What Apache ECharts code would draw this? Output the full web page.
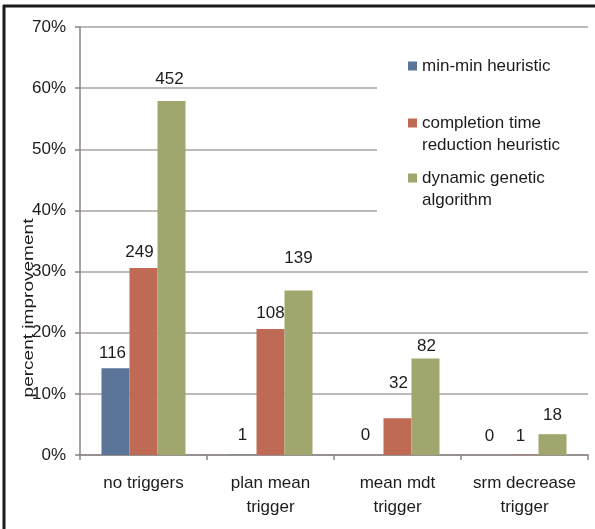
<!DOCTYPE html>
<html>
<head>
<meta charset="utf-8">
<script src="https://cdn.jsdelivr.net/npm/echarts@6/dist/echarts.min.js"></script>
<style>
  html, body { margin: 0; padding: 0; background: #fff; }
  #chart { width: 595px; height: 529px; }
</style>
</head>
<body>
<div id="chart"></div>
<script>
// Trigger scenarios on the category axis
const categories = ['no triggers', 'plan mean\ntrigger', 'mean mdt\ntrigger', 'srm decrease\ntrigger'];

// Scheduling approaches
const seriesNames = ['min-min heuristic', 'completion time reduction heuristic', 'dynamic genetic algorithm'];
const legendLabels = ['min-min heuristic', 'completion time\nreduction heuristic', 'dynamic genetic\nalgorithm'];

// Percent improvement per approach
const minMinPct = [14.2, 0.05, 0, 0];
const completionTimePct = [30.6, 20.6, 6.0, 0.05];
const geneticPct = [57.9, 26.9, 15.8, 3.4];

// Counts printed above each bar
const minMinCount = [116, 1, 0, 0];
const completionTimeCount = [249, 108, 32, 1];
const geneticCount = [452, 139, 82, 18];

// Y axis range (percent)
const yMin = 0, yMax = 70, yStep = 10;

const FONT = '"Liberation Sans", Arial, sans-serif';
const TEXT = '#1c1c1c';
const GRID = '#a8a2a2';
const AXIS = '#8a8484';
const colors = ['#5b7598', '#bf6a54', '#a1a66f'];

// hand-placed label nudges [dx, dy] per series and category
const labelNudge = [
  [[-3, -1], [0, -6], [-4, -6], [-7, -5]],
  [[-4, -2], [0, -2], [1, -22], [-4, -5]],
  [[-2, -8], [0, -19], [1, 1], [0, -5]]
];

const pctSeries = [minMinPct, completionTimePct, geneticPct];
const countSeries = [minMinCount, completionTimeCount, geneticCount];

const chart = echarts.init(document.getElementById('chart'), null, { renderer: 'canvas' });

const series = seriesNames.map((name, s) => ({
  name: name,
  type: 'bar',
  barWidth: 28,
  barGap: '0%',
  itemStyle: { color: colors[s] },
  label: {
    show: true,
    position: 'top',
    distance: 5,
    fontSize: 17,
    lineHeight: 17,
    fontFamily: FONT,
    color: TEXT,
    formatter: p => String(countSeries[s][p.dataIndex])
  },
  data: pctSeries[s].map((v, i) => ({
    value: v,
    label: { offset: labelNudge[s][i] }
  }))
}));

// legend marker: a 9px square sitting on the first text line
const markerOneLine = 'rect';
const markerTwoLine = 'path://M0,0L9,0L9,9L0,9Z M0,31L9,31L9,31Z';

const legendTops = [55, 112, 167];
const legends = seriesNames.map((name, i) => ({
  data: [name],
  orient: 'vertical',
  left: 408,
  top: legendTops[i],
  padding: 0,
  icon: i > 0 ? markerTwoLine : markerOneLine,
  itemWidth: 9,
  itemHeight: i > 0 ? 31 : 9,
  itemGap: 3,
  selectedMode: false,
  formatter: () => legendLabels[i],
  textStyle: {
    fontSize: 17,
    lineHeight: 22,
    fontFamily: FONT,
    color: TEXT
  }
}));

chart.setOption({
  animation: false,
  backgroundColor: '#fff',
  color: colors,
  grid: { left: 80, right: 7, top: 27, bottom: 74, containLabel: false },
  xAxis: {
    type: 'category',
    data: categories,
    axisLine: { lineStyle: { color: AXIS, width: 1.5 } },
    axisTick: { show: true, length: 5, lineStyle: { color: AXIS, width: 1.5 } },
    axisLabel: { interval: 0, fontSize: 17, lineHeight: 24, fontFamily: FONT, color: TEXT, margin: 16 },
    splitLine: { show: false }
  },
  yAxis: {
    type: 'value',
    min: yMin,
    max: yMax,
    interval: yStep,
    axisLine: { show: true, lineStyle: { color: AXIS, width: 1.5 } },
    axisTick: { show: true, length: 5, lineStyle: { color: AXIS, width: 1.5 } },
    axisLabel: { fontSize: 17, fontFamily: FONT, color: TEXT, margin: 14, formatter: '{value}%' },
    splitLine: { show: true, lineStyle: { color: GRID, width: 1.5 } }
  },
  legend: legends,
  graphic: [
    // white panel behind the legend
    { type: 'rect', z: 1, shape: { x: 377, y: 38, width: 212, height: 200 }, style: { fill: '#fff' } },
    // y axis title (drawn wide, reading bottom to top)
    {
      type: 'text', z: 10, x: 29, y: 308, rotation: Math.PI / 2, scaleX: 1.27,
      style: { text: 'percent improvement', font: '15px ' + FONT, fill: TEXT, align: 'center', verticalAlign: 'middle' }
    },
    // frame
    { type: 'line', z: 10, shape: { x1: 4, y1: 5, x2: 4, y2: 529 }, style: { stroke: '#1a1a1a', lineWidth: 3 } },
    { type: 'line', z: 10, shape: { x1: 3, y1: 6, x2: 595, y2: 6 }, style: { stroke: '#1a1a1a', lineWidth: 3 } }
  ],
  series: series
});
</script>
</body>
</html>
